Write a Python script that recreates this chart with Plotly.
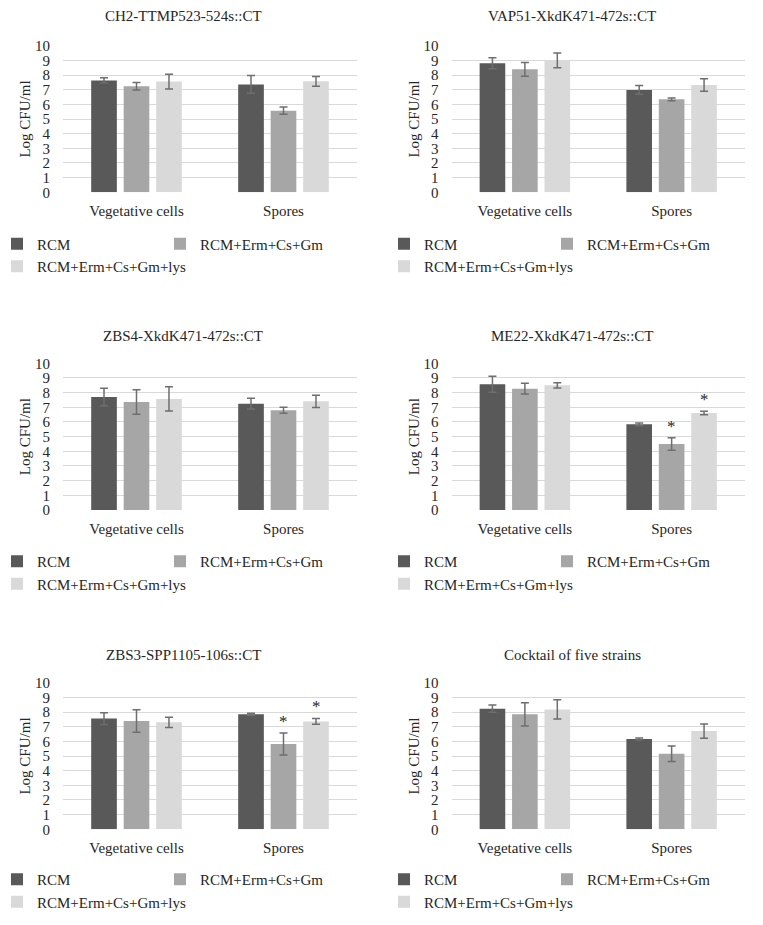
import plotly.graph_objects as go

# strains / panels
titles = ["CH2-TTMP523-524s::CT", "VAP51-XkdK471-472s::CT", "ZBS4-XkdK471-472s::CT",
          "ME22-XkdK471-472s::CT", "ZBS3-SPP1105-106s::CT", "Cocktail of five strains"]
categories = ["Vegetative cells", "Spores"]
series = ["RCM", "RCM+Erm+Cs+Gm", "RCM+Erm+Cs+Gm+lys"]

# mean log CFU/ml per panel: [veg, spores]
rcm = [[7.63, 7.36], [8.80, 6.98], [7.70, 7.25], [8.57, 5.84], [7.55, 7.84], [8.23, 6.16]]
rcm_err = [[0.18, 0.60], [0.38, 0.30], [0.60, 0.36], [0.55, 0.09], [0.40, 0.08], [0.25, 0.07]]
abx = [[7.23, 5.57], [8.39, 6.34], [7.36, 6.80], [8.27, 4.50], [7.39, 5.82], [7.84, 5.16]]
abx_err = [[0.26, 0.25], [0.47, 0.10], [0.84, 0.20], [0.37, 0.42], [0.77, 0.75], [0.80, 0.53]]
lys = [[7.55, 7.57], [9.00, 7.32], [7.57, 7.41], [8.50, 6.61], [7.30, 7.36], [8.18, 6.70]]
lys_err = [[0.50, 0.33], [0.50, 0.43], [0.83, 0.42], [0.18, 0.12], [0.35, 0.20], [0.65, 0.49]]

# significance stars (panel index, series index, category)
stars = [(3, 1, "Spores"), (3, 2, "Spores"), (4, 1, "Spores"), (4, 2, "Spores")]

colors = ["#595959", "#a6a6a6", "#d9d9d9"]
font = "Liberation Serif"
txt = "#262626"
W, H = 763, 925
OFF = 8  # page body margin

# pixel boxes of plot areas (page coords)
cols_px = [(63, 357), (451.5, 745)]
rows_px = [(45.7, 192.3), (363.3, 510), (682.7, 829.3)]
title_x = [183, 572]
title_y = [16, 336, 655]
legend_x = [-3, 384]
legend_top = [227.5, 545, 863]


def px(v, size):
    return (v - OFF) / size


fig = go.Figure()
values = [rcm, abx, lys]
errors = [rcm_err, abx_err, lys_err]
groups = ["a", "b", "a"]

for p in range(6):
    r, c = divmod(p, 2)
    n = "" if p == 0 else str(p + 1)
    for s in range(3):
        fig.add_trace(go.Bar(
            x=categories, y=values[s][p], name=series[s],
            marker=dict(color=colors[s], line=dict(width=0)),
            error_y=dict(type="data", array=errors[s][p], color="#6e6e6e",
                         thickness=1.5, width=4),
            xaxis="x" + n, yaxis="y" + n,
            legend="legend" + n, legendgroup=groups[s],
            legendwidth=130 if s == 1 else 118,
        ))
    x0, x1 = cols_px[c]
    y0, y1 = rows_px[r]
    fig.update_layout(**{
        "xaxis" + n: dict(domain=[px(x0, W), px(x1, W)], anchor="y" + n, automargin=False,
                          showline=False, ticks="", showgrid=False,
                          tickfont=dict(family=font, size=15, color=txt),
                          ticklabelstandoff=8),
        "yaxis" + n: dict(domain=[1 - px(y1, H), 1 - px(y0, H)], anchor="x" + n,
                          automargin=False,
                          range=[0, 10], dtick=1, showline=False, ticks="",
                          gridcolor="#d9d9d9", gridwidth=1, zeroline=False,
                          tickfont=dict(family=font, size=15, color=txt),
                          ticklabelstandoff=12,
                          title=dict(text="Log CFU/ml", standoff=0,
                                     font=dict(family=font, size=15, color=txt))),
        "legend" + n: dict(orientation="h", traceorder="grouped",
                           x=px(legend_x[c], W), xanchor="left",
                           y=1 - px(legend_top[r], H), yanchor="top",
                           font=dict(family=font, size=15, color=txt),
                           bgcolor="rgba(0,0,0,0)"),
    })
    fig.add_annotation(text=titles[p], x=px(title_x[c], W), y=1 - px(title_y[r], H),
                       xref="paper", yref="paper", xanchor="center", yanchor="middle",
                       showarrow=False, font=dict(family=font, size=15, color=txt))

for p, s, cat in stars:
    r, c = divmod(p, 2)
    n = "" if p == 0 else str(p + 1)
    k = categories.index(cat)
    fig.add_annotation(text="*", x=cat, y=values[s][p][k] + errors[s][p][k],
                       xref="x" + n, yref="y" + n, xshift=(s - 1) * 32.5,
                       yanchor="bottom", yshift=0, showarrow=False,
                       font=dict(family=font, size=17, color=txt))

fig.update_layout(
    width=W, height=H, margin=dict(l=0, r=0, t=0, b=0, autoexpand=False),
    paper_bgcolor="white", plot_bgcolor="white",
    barmode="group", bargap=0.337, bargroupgap=0.21,
    showlegend=True,
)

fig.write_html("out.html")
